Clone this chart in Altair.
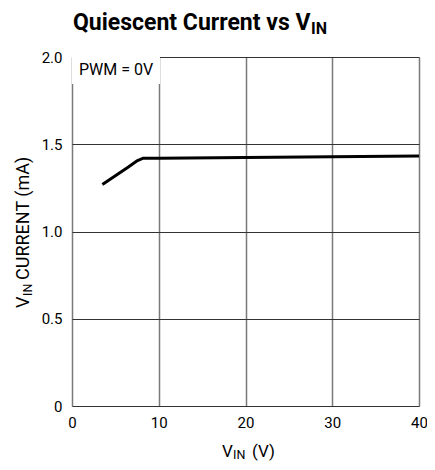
import altair as alt
import pandas as pd

# data
vin = [3.5, 5.0, 6.5, 7.5, 8.2, 10, 20, 30, 40]
current = [1.27, 1.32, 1.37, 1.405, 1.42, 1.42, 1.424, 1.428, 1.432]

x_ticks = [0, 10, 20, 30, 40]
y_ticks = [0, 0.5, 1.0, 1.5, 2.0]

FONT = "Roboto"

df = pd.DataFrame({"vin": vin, "current": current})

xs = alt.Scale(domain=[0, 40], nice=False, zero=False)
ys = alt.Scale(domain=[0, 2], nice=False)

line = alt.Chart(df).mark_line(color="black", strokeWidth=3).encode(
    x=alt.X("vin:Q", scale=xs,
            axis=alt.Axis(values=x_ticks, title=None, ticks=False, domain=False,
                          labelFlush=False, labelPadding=9, labelFontSize=15,
                          labelFont=FONT, labelColor="black",
                          grid=True, gridColor="#7a7a7a", gridWidth=1.5)),
    y=alt.Y("current:Q", scale=ys,
            axis=alt.Axis(values=y_ticks, title=None, ticks=False, domain=False,
                          labelFlush=False, labelPadding=10, labelFontSize=15,
                          labelFont=FONT, labelColor="black",
                          labelExpr="datum.value == 0 ? '0' : format(datum.value, '.1f')",
                          grid=True, gridColor="#333333", gridWidth=1.2)),
)

# annotation box
box_df = pd.DataFrame({"x0": [0], "x1": [10.15], "y0": [1.845], "y1": [2.0]})
box = alt.Chart(box_df).mark_rect(color="white").encode(
    x=alt.X("x0:Q", scale=xs), x2="x1:Q",
    y=alt.Y("y0:Q", scale=ys), y2="y1:Q",
)
ann_df = pd.DataFrame({"x": [0.8], "y": [1.925], "t": ["PWM = 0V"]})
ann = alt.Chart(ann_df).mark_text(align="left", baseline="middle", font=FONT,
                                  fontSize=16, color="black").encode(
    x=alt.X("x:Q", scale=xs), y=alt.Y("y:Q", scale=ys), text="t:N")


def txt(s, x, y, size, bold=False, angle=0):
    d = pd.DataFrame({"t": [s]})
    kw = dict(align="left", baseline="alphabetic", font=FONT, fontSize=size,
              fontWeight="bold" if bold else "normal", color="black")
    if angle:
        kw["angle"] = angle
    return alt.Chart(d).mark_text(**kw).encode(
        x=alt.value(x), y=alt.value(y), text="t:N")


title_a = txt("Quiescent Current vs V", 1, -27, 23, bold=True)
title_b = txt("IN", 239, -23, 16, bold=True)

xt_a = txt("V", 150, 400, 17)
xt_b = txt("IN", 161, 402, 12.5)
xt_c = txt("(V)", 180, 400, 17)

yt_a = txt("V", -43, 251, 18, angle=270)
yt_b = txt("IN", -40, 239, 12.5, angle=270)
yt_c = txt("CURRENT (mA)", -43, 223, 18, angle=270)

chart = alt.layer(line, box, ann, title_a, title_b, xt_a, xt_b, xt_c,
                  yt_a, yt_b, yt_c).properties(
    width=347, height=349,
    autosize=alt.AutoSizeParams(type="none"),
    padding={"left": 64, "top": 49, "right": 8, "bottom": 56},
).configure_view(stroke="black", strokeWidth=2).configure(background="white")

chart.save("out.html", embed_options={"renderer": "svg", "actions": False})
